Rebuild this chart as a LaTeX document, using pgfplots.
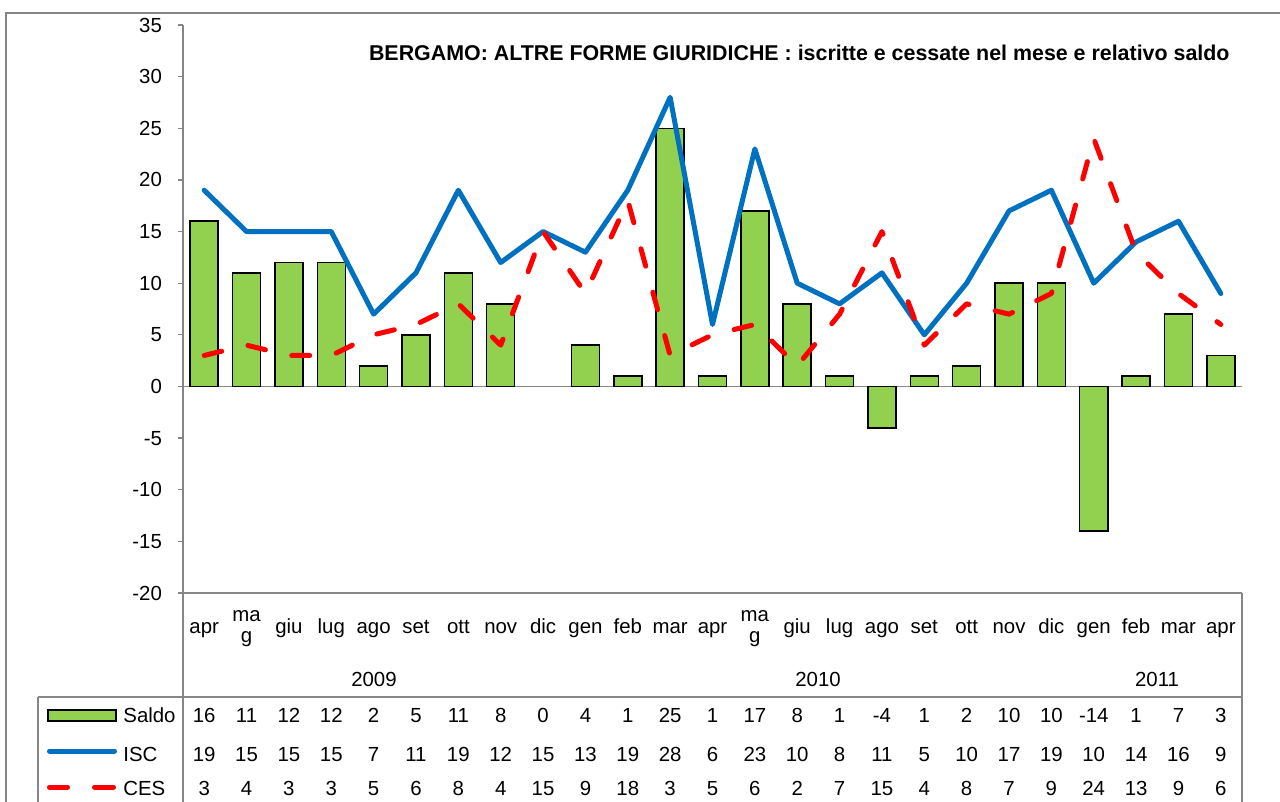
\documentclass[border=0pt]{standalone}
\usepackage{fontspec}
\setmainfont{Liberation Sans}
\usepackage{pgfplots}
\usepackage{pgfplotstable}
\pgfplotsset{compat=1.18}
\definecolor{axgray}{HTML}{868686}
\definecolor{sgreen}{HTML}{92D050}
\definecolor{iblue}{HTML}{0070C0}
\definecolor{cred}{HTML}{FF0000}

\pgfplotstableread{
x saldo isc ces
0 16 19 3
1 11 15 4
2 12 15 3
3 12 15 3
4 2 7 5
5 5 11 6
6 11 19 8
7 8 12 4
8 0 15 15
9 4 13 9
10 1 19 18
11 25 28 3
12 1 6 5
13 17 23 6
14 8 10 2
15 1 8 7
16 -4 11 15
17 1 5 4
18 2 10 8
19 10 17 7
20 10 19 9
21 -14 10 24
22 1 14 13
23 7 16 9
24 3 9 6
}\data

\newcommand{\tf}{\fontsize{10.2}{12}\selectfont}
\begin{document}
\begin{tikzpicture}[font=\tf]
\begin{scope}[x=0.5pt,y=-0.5pt]
\draw[axgray, line width=0.7pt] (6,13) rectangle (1300,830);
\end{scope}
\begin{axis}[
  at={(91.5pt,-296.5pt)}, anchor=south west,
  scale only axis, width=529.5pt, height=284pt,
  xmin=-0.5, xmax=24.5, ymin=-20, ymax=35,
  axis x line*=bottom, axis y line*=left,
  xtick=\empty,
  ytick={-20,-15,...,35},
  yticklabels={-20,-15,-10,-5,0,5,10,15,20,25,30,35},
  tick align=outside, major tick length=2.5pt,
  axis line style={axgray, line width=0.6pt},
  tick style={axgray, line width=0.6pt},
  yticklabel style={font=\tf, anchor=east, xshift=-4.5pt},
  clip=false,
  unbounded coords=discard,
]
\draw[axgray, line width=0.6pt] (axis cs:-0.5,0) -- (axis cs:24.5,0);
\addplot[ybar, bar width=14pt, bar shift=0pt, fill=sgreen, draw=black, line width=0.75pt,
  y filter/.expression={y==0 ? nan : y}] table[x=x,y=saldo]{\data};
\addplot[iblue, line width=2.5pt, line join=round, line cap=round] table[x=x,y=isc]{\data};
\addplot[cred, line width=2.5pt, line join=round, line cap=round, dash pattern=on 9pt off 13.5pt] table[x=x,y=ces]{\data};
\end{axis}
\begin{scope}[x=0.5pt,y=-0.5pt]
\node[anchor=base east, inner sep=0pt, font=\fontsize{10.7}{12}\selectfont\bfseries] at (1230,61) {BERGAMO: ALTRE FORME GIURIDICHE : iscritte e cessate nel mese e relativo saldo};
% table lines
\draw[axgray, line width=0.6pt] (38,697) -- (1242,697);
\draw[axgray, line width=0.6pt] (38,697) -- (38,830);
\draw[axgray, line width=0.6pt] (183,593) -- (183,830);
\draw[axgray, line width=0.6pt] (1242,593) -- (1242,830);
% months
\foreach \m [count=\i from 0] in {apr,,giu,lug,ago,set,ott,nov,dic,gen,feb,mar,apr,,giu,lug,ago,set,ott,nov,dic,gen,feb,mar,apr}
  \node[anchor=base, inner sep=0pt] at ({183+42.36*(\i+0.5)},633) {\m};
\foreach \i in {1,13} {
  \node[anchor=base, inner sep=0pt] at ({183+42.36*(\i+0.5)},621) {ma};
  \node[anchor=base, inner sep=0pt] at ({183+42.36*(\i+0.5)},642) {g};
}
\node[anchor=base, inner sep=0pt] at (374,686) {2009};
\node[anchor=base, inner sep=0pt] at (818,686) {2010};
\node[anchor=base, inner sep=0pt] at (1157,686) {2011};
\foreach \v [count=\i from 0] in {16,11,12,12,2,5,11,8,0,4,1,25,1,17,8,1,-4,1,2,10,10,-14,1,7,3}
  \node[anchor=base, inner sep=0pt] at ({183+42.36*(\i+0.5)},722) {\v};
\foreach \v [count=\i from 0] in {19,15,15,15,7,11,19,12,15,13,19,28,6,23,10,8,11,5,10,17,19,10,14,16,9}
  \node[anchor=base, inner sep=0pt] at ({183+42.36*(\i+0.5)},761) {\v};
\foreach \v [count=\i from 0] in {3,4,3,3,5,6,8,4,15,9,18,3,5,6,2,7,15,4,8,7,9,24,13,9,6}
  \node[anchor=base, inner sep=0pt] at ({183+42.36*(\i+0.5)},795) {\v};
% legend keys
\draw[black, fill=sgreen, line width=0.9pt] (48,710) rectangle (116,721);
\node[anchor=base west, inner sep=0pt] at (123,722) {Saldo};
\draw[iblue, line width=2.5pt, line cap=round] (49.5,751) -- (114.5,751);
\node[anchor=base west, inner sep=0pt] at (123,761) {ISC};
\draw[cred, line width=2.5pt, line cap=round] (49.5,787) -- (67.5,787);
\draw[cred, line width=2.5pt, line cap=round] (94.5,787) -- (113.5,787);
\node[anchor=base west, inner sep=0pt] at (123,795) {CES};
\end{scope}
\pgfresetboundingbox
\path[use as bounding box] (0,0) rectangle (640pt,-401pt);
\end{tikzpicture}
\end{document}
